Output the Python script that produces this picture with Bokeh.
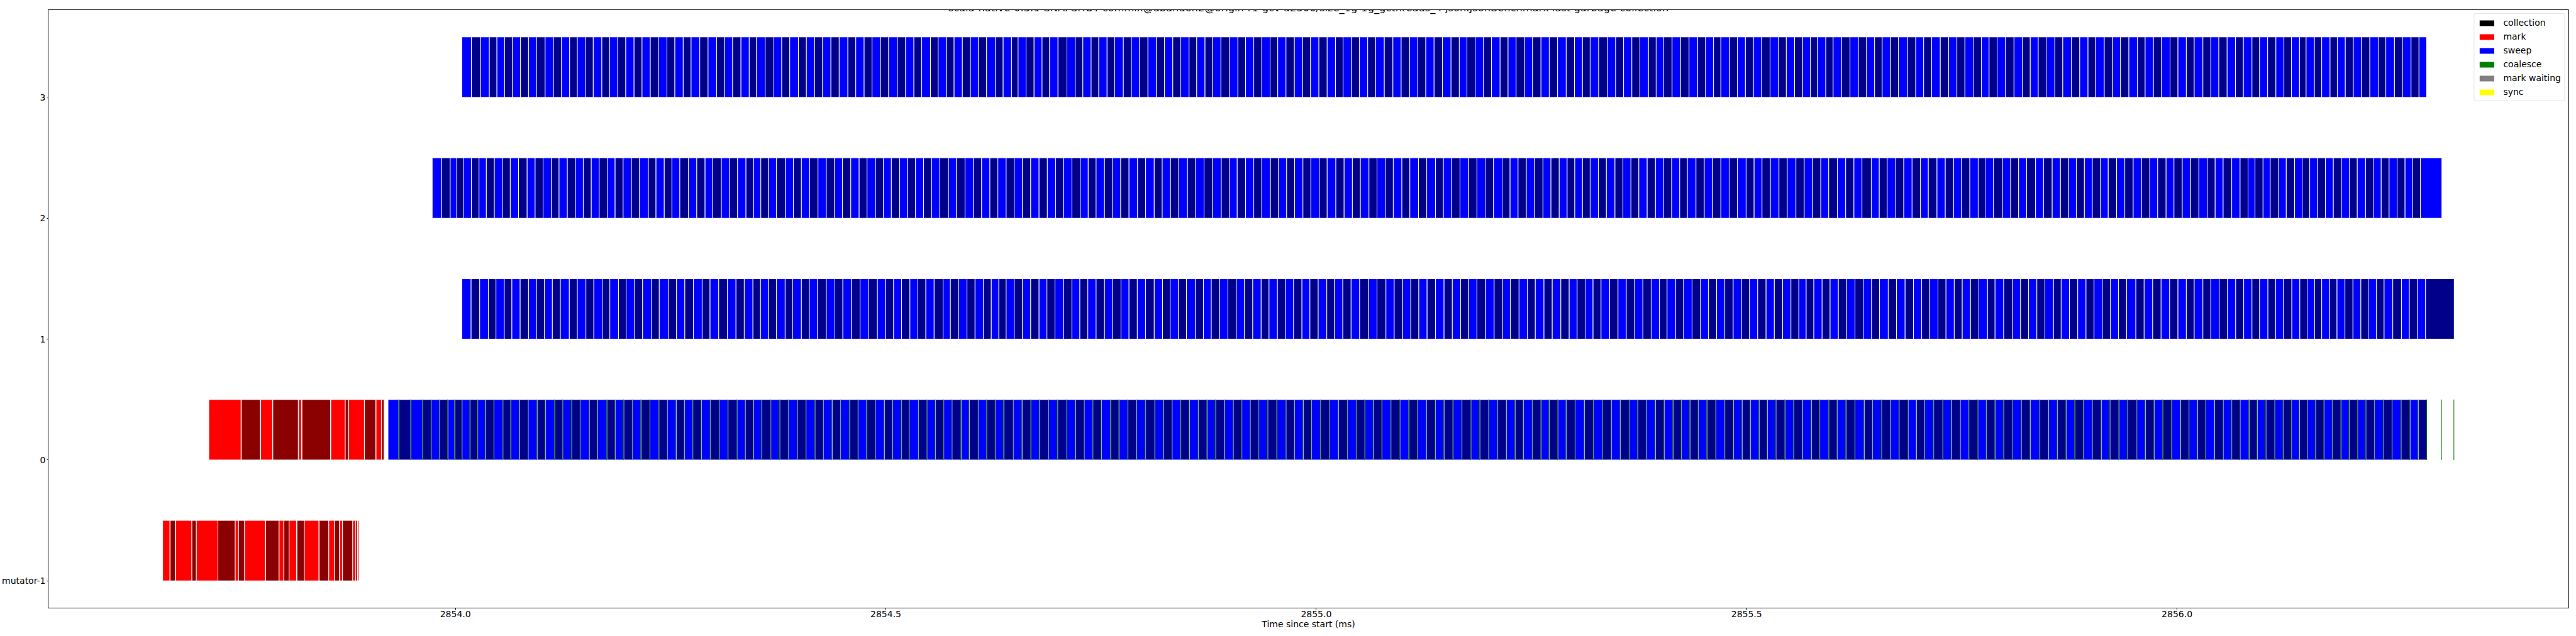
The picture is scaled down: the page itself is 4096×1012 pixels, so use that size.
from bokeh.plotting import figure
from bokeh.models import (Range1d, FixedTicker, PrintfTickFormatter, Legend, LegendItem,
                          ColumnDataSource, Label)
from bokeh.embed import file_html
from bokeh.resources import INLINE

# ---------------- data (times in microseconds after the instant T0_MS) ----------------
T0_MS = 2854.0106
TITLE = ("scala-native-0.3.9-SNAPSHOT-commix@abandon2@origin-r1-gcv-a2500/size_1g-1g_gcthreads_4 "
         "json.JsonBenchmark last garbage collection")
Y_TICKS = [-1, 0, 1, 2, 3]
Y_LABELS = ["mutator-1", "0", "1", "2", "3"]
X_TICKS = [2854.0, 2854.5, 2855.0, 2855.5, 2856.0]

# mark phases (start / end)
MUTATOR_MARK_START = [-350.7, -342.0, -335.7, -316.8, -311.6, -286.5, -266.4, -262.6, -255.5, -231.0,
                      -215.4, -209.8, -203.8, -194.7, -186.2, -168.9, -157.7, -151.1, -145.2, -141.7,
                      -129.9, -126.3, -124.3]
MUTATOR_MARK_END = [-342.4, -336.1, -316.8, -311.6, -286.5, -266.4, -262.6, -255.5, -231.4, -215.7,
                    -210.1, -203.8, -195.1, -186.2, -169.3, -157.7, -151.1, -145.5, -141.7, -129.9,
                    -126.3, -124.3, -122.8]
ROW0_MARK_START = [-297.1, -259.3, -236.9, -222.7, -192.8, -188.9, -155.4, -138.6, -134.9, -116.2,
                   -102.8, -96.4, -93.5]
ROW0_MARK_END = [-259.7, -237.3, -223.1, -193.2, -189.3, -155.8, -138.6, -135.3, -116.2, -103.1,
                 -96.4, -93.5, -93.1]

# sweep phases: consecutive segment start times, plus the end of the last one
ROW0_SWEEP = [-88.9, -76.3, -62.5, -48.8, -38.7, -28.7, -19.4, -11.3, -2.9, 6.4, 15.3, 24.5, 34.2, 44.6,
    53.8, 63.9, 73.9, 84.3, 93.9, 104.7, 114.0, 124.4, 134.4, 144.9, 154.5, 165.3, 174.9, 185.0, 195.0,
    205.0, 215.4, 225.8, 235.5, 245.9, 255.5, 265.2, 275.2, 285.6, 296.0, 306.1, 316.5, 326.1, 335.7,
    345.4, 355.8, 366.2, 376.2, 386.7, 396.7, 407.1, 416.7, 427.1, 436.8, 447.6, 457.2, 467.3, 477.3,
    487.7, 497.3, 507.7, 516.6, 527.4, 537.1, 547.1,
    556.7, 566.3, 576.8, 586.4, 596.8, 606.5, 616.5, 626.5, 637.3, 647.7, 657.7, 668.2, 678.6, 689.0,
    699.4, 709.8, 719.8, 729.9, 739.9, 750.7, 760.3, 770.7, 780.8, 791.2, 802.0, 812.0, 822.0, 832.1,
    842.1, 852.5, 862.5, 872.6, 883.0, 893.0, 903.0, 912.7, 922.7, 933.1, 943.5, 954.3, 964.0, 974.4,
    984.0, 994.4, 1004.8, 1015.2, 1025.7, 1036.1, 1045.7, 1056.1, 1065.8, 1076.2, 1086.6, 1097.0,
    1107.4, 1117.4, 1127.9, 1137.9, 1148.3, 1158.7,
    1169.1, 1179.5, 1189.9, 1200.3, 1210.4, 1220.4, 1230.0, 1240.5, 1250.5, 1260.1, 1270.1, 1279.8,
    1290.2, 1301.0, 1311.4, 1321.8, 1332.2, 1342.7, 1353.1, 1363.1, 1373.1, 1383.5, 1393.6, 1404.0,
    1413.6, 1423.6, 1433.3, 1443.3, 1453.7, 1464.1, 1474.2, 1484.2, 1493.8, 1503.9, 1513.5, 1523.5,
    1533.9, 1544.3, 1554.4, 1564.8, 1574.4, 1584.8, 1594.5, 1604.9, 1615.3, 1626.1, 1635.7, 1646.2,
    1656.6, 1666.6, 1677.0, 1686.7, 1696.3, 1706.7, 1717.1, 1727.5, 1737.6, 1747.6, 1758.0,
    1768.0, 1778.0, 1788.1, 1798.1, 1808.5, 1818.9, 1830.1, 1840.1, 1850.5, 1860.6, 1870.6, 1881.0,
    1891.0, 1901.4, 1911.5, 1921.9, 1931.9, 1942.7, 1952.7, 1962.8, 1972.8, 1983.2, 1993.6, 2003.3,
    2013.3, 2022.5, 2033.0, 2043.0, 2053.0, 2062.7, 2073.1, 2082.7, 2092.7, 2102.8, 2112.8, 2122.4,
    2131.7, 2140.9, 2150.6, 2160.2, 2169.9, 2179.9, 2189.5, 2199.2, 2208.8, 2218.8, 2229.3, 2239.3,
    2249.7, 2260.1, 2269.7]
ROW0_SWEEP_END = 2279.8

ROW1_SWEEP = [-3.2, 7.6, 17.6, 27.6, 36.5, 46.1, 55.0, 64.6, 74.3, 83.9, 92.8, 102.0, 111.3, 121.7,
    131.0, 141.0, 150.2, 159.9, 168.8, 178.8, 187.7, 197.7, 206.9, 217.4, 226.2, 236.6, 246.3, 255.9,
    265.9, 276.0, 285.2, 295.3, 305.3, 315.3, 324.9, 335.0, 343.8, 353.1, 362.4, 372.4, 381.3, 391.3,
    400.5, 410.2, 420.2, 430.2, 439.5, 449.5, 459.5, 469.6, 479.6, 489.2, 498.5, 507.7, 517.4, 526.6,
    535.9, 545.5,
    555.9, 564.4, 574.1, 583.7, 593.0, 602.6, 611.9, 620.7, 629.2, 638.5, 648.1, 657.7, 667.4, 676.6,
    685.9, 695.9, 705.6, 714.8, 724.1, 733.7, 743.4, 753.0, 762.6, 771.9, 781.5, 791.2, 801.2, 810.8,
    819.7, 829.4, 838.6, 849.0, 858.3, 867.5, 877.2, 886.8, 896.5, 906.1, 915.7, 925.4, 934.6, 944.3,
    953.5, 963.2, 972.8, 982.1, 991.7, 1001.7, 1010.6, 1020.3, 1029.9, 1039.9, 1050.0, 1060.0, 1070.4,
    1080.0, 1089.7, 1099.3, 1108.6, 1118.2, 1127.9, 1137.9, 1147.5, 1157.2,
    1166.4, 1176.1, 1186.1, 1196.1, 1206.1, 1215.0, 1225.0, 1234.7, 1243.9, 1254.0, 1263.6, 1273.6,
    1283.3, 1292.5, 1301.8, 1311.0, 1320.3, 1330.3, 1340.0, 1349.6, 1358.8, 1368.9, 1378.5, 1388.2,
    1397.0, 1407.1, 1416.3, 1426.0, 1435.6, 1445.2, 1454.5, 1464.1, 1473.8, 1483.4, 1492.7, 1502.3,
    1512.0, 1521.6, 1531.2, 1540.9, 1550.1, 1558.6, 1567.5, 1577.1, 1586.4, 1596.0, 1605.7, 1615.3,
    1624.9, 1634.6, 1643.8, 1653.9, 1663.5, 1673.5, 1683.2, 1692.8, 1702.1, 1711.7, 1721.0, 1730.6,
    1739.9, 1749.5, 1759.2,
    1769.2, 1778.0, 1788.1, 1798.1, 1807.7, 1817.0, 1826.6, 1835.9, 1845.9, 1854.8, 1864.4, 1874.1,
    1883.7, 1893.0, 1902.6, 1911.9, 1921.5, 1930.8, 1941.6, 1951.2, 1961.2, 1970.9, 1980.9, 1990.5,
    2000.2, 2009.4, 2019.5, 2028.7, 2038.4, 2048.0, 2057.6, 2066.9, 2076.5, 2085.4, 2095.0, 2103.9,
    2113.2, 2122.8, 2132.1, 2140.6, 2149.4, 2157.5, 2166.8, 2175.3, 2184.5, 2193.8, 2203.0, 2211.5,
    2221.2, 2230.0, 2240.1, 2250.1, 2259.3, 2268.6, 2278.2]
ROW1_SWEEP_END = 2311.4

ROW2_SWEEP = [-37.6, -26.8, -16.7, -9.0, -0.9, 7.9, 16.8, 25.3, 34.6, 43.8, 53.1, 62.7, 72.7, 82.0,
    91.2, 100.9, 109.8, 119.4, 128.7, 137.9, 147.2, 156.4, 165.7, 174.9, 184.2, 193.8, 203.1, 213.5,
    222.4, 232.0, 240.9, 250.1, 260.2, 269.8, 279.4, 288.3, 298.3, 307.6, 317.2, 326.9, 335.7, 344.2,
    353.1, 362.4, 372.8, 382.0, 391.3, 400.9, 410.6, 420.2, 429.5, 439.1, 448.7, 458.4, 467.6, 477.3,
    486.5, 495.8, 505.4, 514.7, 523.9, 533.2, 542.5, 552.1,
    562.1, 571.4, 581.4, 591.4, 600.7, 610.3, 619.6, 629.2, 638.5, 648.1, 657.7, 667.4, 677.0, 686.7,
    695.9, 705.6, 715.2, 724.5, 733.7, 743.4, 753.0, 762.3, 771.9, 781.9, 791.2, 801.2, 810.5, 820.1,
    829.7, 839.8, 849.4, 859.1, 868.7, 879.1, 888.4, 897.6, 907.3, 916.9, 926.2, 936.2, 945.4, 955.1,
    964.3, 974.0, 983.2, 992.9, 1002.1, 1012.2, 1021.8, 1031.4, 1040.7, 1050.7, 1060.0, 1069.6,
    1078.9, 1088.9, 1098.2, 1108.2, 1117.8, 1127.9, 1137.1, 1146.8, 1156.4,
    1166.4, 1176.1, 1185.7, 1195.3, 1205.4, 1214.6, 1223.9, 1233.5, 1243.2, 1252.8, 1262.1, 1271.7,
    1280.9, 1289.8, 1298.7, 1307.6, 1317.2, 1326.5, 1336.5, 1345.7, 1355.0, 1364.2, 1373.9, 1383.5,
    1393.2, 1402.4, 1411.7, 1420.6, 1430.6, 1440.2, 1449.9, 1459.5, 1469.1, 1478.8, 1488.8, 1498.1,
    1507.3, 1517.0, 1527.0, 1536.6, 1546.7, 1556.3, 1565.9, 1575.6, 1584.8, 1594.9, 1604.5, 1614.1,
    1623.4, 1634.2, 1643.5, 1652.7, 1662.0, 1672.0, 1681.6, 1691.3, 1700.5, 1710.6, 1720.2, 1729.8,
    1739.1, 1748.7, 1758.4,
    1766.5, 1776.1, 1786.5, 1796.2, 1805.4, 1814.7, 1825.1, 1834.3, 1844.4, 1854.0, 1863.3, 1872.5,
    1881.8, 1891.0, 1900.3, 1909.5, 1919.2, 1928.8, 1938.5, 1948.1, 1957.8, 1967.0, 1976.7, 1985.9,
    1995.5, 2005.2, 2014.8, 2024.5, 2033.7, 2043.0, 2053.0, 2062.7, 2071.9, 2080.0, 2089.3, 2097.7,
    2107.0, 2116.3, 2125.9, 2134.8, 2143.6, 2152.5, 2161.8, 2171.0, 2180.3, 2189.5, 2198.8, 2208.4,
    2217.3, 2226.6, 2235.8, 2245.1, 2254.3, 2262.8, 2272.1]
ROW2_SWEEP_END = 2297.1

ROW3_SWEEP = [-3.2, 7.9, 18.4, 28.8, 37.6, 46.5, 55.8, 65.0, 74.3, 83.9, 93.6, 103.2, 112.5, 122.1,
    131.0, 140.2, 149.5, 159.5, 168.4, 178.0, 187.3, 196.9, 206.2, 215.8, 225.1, 235.1, 244.3, 254.0,
    263.2, 273.3, 282.9, 292.9, 302.2, 311.5, 321.1, 330.7, 339.2, 349.2, 359.3, 368.5, 377.8, 387.8,
    397.1, 406.7, 416.0, 425.6, 435.2, 445.3, 454.5, 464.2, 473.4, 483.5, 492.7, 502.7, 512.4, 522.0,
    530.9, 541.3, 550.2,
    559.8, 568.7, 578.3, 587.6, 596.8, 606.5, 616.5, 625.7, 635.4, 643.1, 652.3, 661.6, 670.9, 679.7,
    689.4, 699.8, 709.4, 718.3, 727.9, 736.8, 746.4, 755.3, 765.3, 774.6, 784.2, 793.9, 803.9, 813.2,
    822.8, 832.1, 841.7, 850.6, 860.2, 869.1, 878.7, 888.4, 898.4, 907.3, 916.9, 926.2, 935.8, 944.7,
    954.3, 964.0, 973.6, 982.8, 992.5, 1002.1, 1011.8, 1020.6, 1030.3, 1039.5, 1049.2, 1058.4,
    1068.5, 1078.5, 1088.1, 1097.8, 1107.4, 1116.7, 1126.3, 1136.0, 1146.0, 1155.6,
    1164.5, 1174.1, 1183.8, 1193.0, 1203.0, 1212.3, 1221.6, 1231.2, 1240.8, 1250.5, 1260.1, 1269.8,
    1279.8, 1289.4, 1298.7, 1307.6, 1317.6, 1327.6, 1337.3, 1346.5, 1356.1, 1365.4, 1375.4, 1384.3,
    1393.2, 1402.8, 1412.8, 1422.5, 1432.5, 1441.8, 1451.0, 1459.5, 1469.5, 1478.8, 1488.0, 1497.3,
    1506.9, 1516.6, 1526.2, 1535.5, 1545.1, 1554.4, 1563.6, 1571.7, 1581.4, 1589.9, 1599.9, 1609.5,
    1619.2, 1628.8, 1638.1, 1646.9, 1656.6, 1665.8, 1676.2, 1685.9, 1695.1, 1704.4, 1714.4, 1724.1,
    1733.7, 1743.0, 1752.6, 1762.2,
    1771.1, 1780.4, 1790.0, 1800.0, 1809.7, 1818.9, 1828.2, 1837.4, 1847.5, 1856.7, 1866.7, 1876.4,
    1886.0, 1894.9, 1904.9, 1914.6, 1923.8, 1933.5, 1943.5, 1952.4, 1962.0, 1971.3, 1981.3, 1990.5,
    2000.2, 2009.4, 2019.5, 2028.7, 2038.0, 2047.6, 2057.3, 2066.5, 2076.5, 2085.4, 2094.7, 2104.3,
    2113.6, 2122.4, 2131.7, 2139.4, 2149.0, 2157.5, 2167.2, 2175.6, 2184.9, 2194.2, 2203.8, 2213.4,
    2223.1, 2232.0, 2242.0, 2251.2, 2261.3, 2270.5]
ROW3_SWEEP_END = 2279.4

# coalesce slivers on thread 0: one at the end of every sweep segment, plus two after the sweep
COALESCE_LEN = 0.7
COALESCE_EXTRA_END = [2297.1, 2311.4]

LEGEND_LABELS = ["collection", "mark", "sweep", "coalesce", "mark waiting", "sync"]
LEGEND_COLORS = ["#000000", "#ff0000", "#0000ff", "#008000", "#808080", "#ffff00"]
MARK_COLORS = ["#ff0000", "#8b0000"]
SWEEP_COLORS = ["#0000ff", "#00008b"]
COALESCE_COLORS = ["#008000", "#006400"]
BAR_HEIGHT = 0.5


def ms(v):
    return T0_MS + v / 1000.0


bars = dict(left=[], right=[], bottom=[], top=[], color=[])


def add(starts, ends, y, palette):
    for i, (s, e) in enumerate(zip(starts, ends)):
        bars["left"].append(ms(s))
        bars["right"].append(ms(e))
        bars["bottom"].append(y)
        bars["top"].append(y + BAR_HEIGHT)
        bars["color"].append(palette[i % 2])


add(MUTATOR_MARK_START, MUTATOR_MARK_END, -1, MARK_COLORS)
add(ROW0_MARK_START, ROW0_MARK_END, 0, MARK_COLORS)
for y, b, end in [(0, ROW0_SWEEP, ROW0_SWEEP_END), (1, ROW1_SWEEP, ROW1_SWEEP_END),
                  (2, ROW2_SWEEP, ROW2_SWEEP_END), (3, ROW3_SWEEP, ROW3_SWEEP_END)]:
    add(b, b[1:] + [end], y, SWEEP_COLORS)

co = dict(left=[], right=[], bottom=[], top=[], color=[])
co_ends = ROW0_SWEEP[1:] + [ROW0_SWEEP_END] + COALESCE_EXTRA_END
for i, e in enumerate(co_ends):
    co["left"].append(ms(e - COALESCE_LEN))
    co["right"].append(ms(e))
    co["bottom"].append(0)
    co["top"].append(BAR_HEIGHT)
    co["color"].append(COALESCE_COLORS[i % 2])

xmin = min(bars["left"])
xmax = max(max(bars["right"]), max(co["right"]))
pad = 0.05 * (xmax - xmin)

FRAME_W, FRAME_H = 4008, 952
p = figure(frame_width=FRAME_W, frame_height=FRAME_H, output_backend="svg", toolbar_location=None,
           x_range=Range1d(xmin - pad, xmax + pad), y_range=Range1d(-1 - 0.225, 3.5 + 0.225),
           min_border_left=60, min_border_right=2, min_border_top=15, min_border_bottom=30)
p.background_fill_color = "white"
p.border_fill_color = "white"
p.outline_line_color = "black"
p.outline_line_width = 1
p.outline_line_alpha = 1
p.xgrid.visible = False
p.ygrid.visible = False

p.quad(left="left", right="right", bottom="bottom", top="top", fill_color="color",
       line_color="white", line_width=1, source=ColumnDataSource(bars))
p.quad(left="left", right="right", bottom="bottom", top="top", fill_color="color",
       line_alpha=0, source=ColumnDataSource(co))

# legend swatches: zero-area quads (nothing visible in the plot area)
items = []
for lab, col in zip(LEGEND_LABELS, LEGEND_COLORS):
    r = p.quad(left=[xmin], right=[xmin], bottom=[-1], top=[-1], fill_color=col,
               line_color=col, line_alpha=0)
    items.append(LegendItem(label=lab, renderers=[r]))
legend = Legend(items=items, location="top_right", margin=6, padding=5, spacing=4,
                label_height=18, glyph_width=29, glyph_height=11, label_standoff=12,
                label_text_font="DejaVu Sans", label_text_font_size="14px",
                label_text_color="black", border_line_color="#cccccc", border_line_width=1,
                border_radius=3, background_fill_alpha=0.8)
p.add_layout(legend)

for ax in (p.xaxis[0], p.yaxis[0]):
    ax.axis_line_color = "black"
    ax.major_tick_line_color = "black"
    ax.minor_tick_line_color = None
    ax.major_tick_in = 0
    ax.major_label_text_font = "DejaVu Sans"
    ax.major_label_text_font_size = "14px"
    ax.major_label_text_color = "black"

p.xaxis.ticker = FixedTicker(ticks=X_TICKS)
p.xaxis.formatter = PrintfTickFormatter(format="%.1f")
p.xaxis.major_tick_out = 3
p.xaxis.major_label_standoff = 1
p.xaxis.axis_label = "Time since start (ms)"
p.xaxis.axis_label_text_font = "DejaVu Sans"
p.xaxis.axis_label_text_font_size = "14px"
p.xaxis.axis_label_text_font_style = "normal"
p.xaxis.axis_label_text_color = "black"
p.xaxis.axis_label_standoff = 0

p.yaxis.ticker = FixedTicker(ticks=Y_TICKS)
p.yaxis.major_label_overrides = {t: l for t, l in zip(Y_TICKS, Y_LABELS)}
p.yaxis.major_tick_out = 2
p.yaxis.major_label_standoff = 2

p.add_layout(Label(x=FRAME_W / 2, y=FRAME_H + 3, x_units="screen", y_units="screen", text=TITLE,
                   text_align="center", text_baseline="alphabetic", text_font="DejaVu Sans",
                   text_font_size="16.3px", text_color="black"))

open("out.html", "w").write(file_html(p, INLINE))
